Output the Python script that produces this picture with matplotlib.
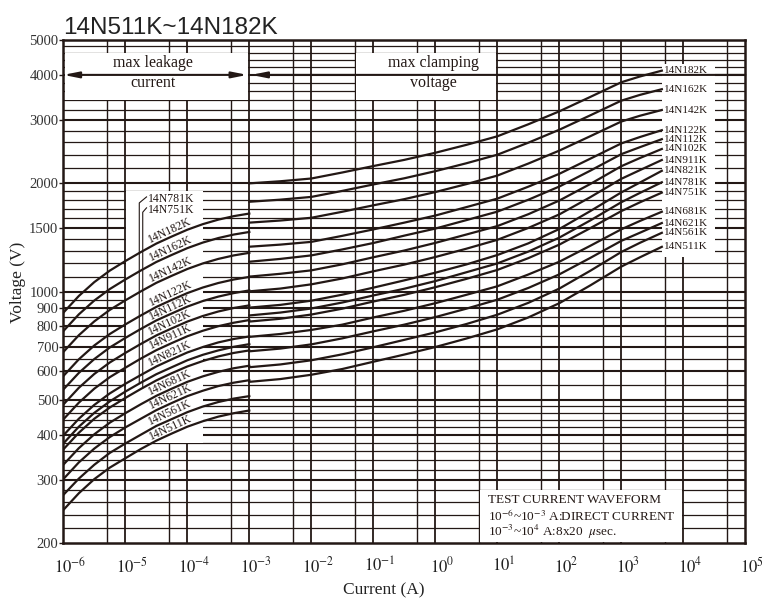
import numpy as np
import matplotlib
matplotlib.use('Agg')
import matplotlib.pyplot as plt
import matplotlib.transforms as mtransforms
from matplotlib.patches import Rectangle

plt.rcParams['font.family'] = ['Liberation Serif', 'DejaVu Serif']
plt.rcParams['mathtext.fontset'] = 'stix'

ink = '#231815'

# varistor types, bottom to top
names = ['14N511K', '14N561K', '14N621K', '14N681K', '14N751K', '14N781K', '14N821K',
         '14N911K', '14N102K', '14N112K', '14N122K', '14N142K', '14N162K', '14N182K']

# max leakage current side (A), quarter decades 1e-6 .. 1e-3
i_leak = [1e-6, 1.78e-6, 3.16e-6, 5.62e-6, 1e-5, 1.78e-5, 3.16e-5, 5.62e-5,
          1e-4, 1.78e-4, 3.16e-4, 5.62e-4, 1e-3]
v_leak = {
    '14N511K': [247, 275, 301, 324, 344, 365, 385, 403, 421, 436, 449, 459, 467],
    '14N561K': [272, 302, 330, 356, 378, 400, 423, 442, 462, 479, 493, 504, 512],
    '14N621K': [301, 335, 366, 394, 419, 443, 468, 490, 512, 530, 546, 558, 567],
    '14N681K': [330, 367, 401, 432, 459, 486, 513, 537, 561, 581, 598, 612, 622],
    '14N751K': [364, 405, 443, 476, 506, 536, 566, 593, 619, 641, 660, 675, 686],
    '14N781K': [378, 421, 460, 495, 527, 558, 589, 616, 644, 667, 686, 702, 714],
    '14N821K': [398, 443, 484, 521, 554, 586, 619, 648, 677, 701, 722, 738, 750],
    '14N911K': [441, 491, 537, 578, 614, 651, 687, 719, 751, 778, 801, 819, 833],
    '14N102K': [485, 540, 590, 635, 675, 715, 755, 790, 825, 855, 880, 900, 915],
    '14N112K': [534, 594, 649, 699, 743, 787, 831, 869, 908, 941, 968, 990, 1007],
    '14N122K': [582, 648, 708, 762, 810, 858, 906, 948, 990, 1026, 1056, 1080, 1098],
    '14N142K': [679, 756, 826, 889, 945, 1001, 1057, 1106, 1155, 1197, 1232, 1260, 1281],
    '14N162K': [776, 864, 944, 1016, 1080, 1144, 1208, 1264, 1320, 1368, 1408, 1440, 1464],
    '14N182K': [873, 972, 1062, 1143, 1215, 1287, 1359, 1422, 1485, 1539, 1584, 1620, 1647],
}

# max clamping voltage side (A), half decades 1e-3 .. 4500
i_clamp = [1e-3, 3.16e-3, 1e-2, 3.16e-2, 1e-1, 0.316, 1, 3.16, 10, 31.6,
           100, 316, 1000, 2000, 4500]
v_clamp = {
    '14N511K': [561, 571, 587, 609, 638, 668, 701, 740, 785, 847, 928, 1040, 1173, 1245, 1331],
    '14N561K': [616, 627, 644, 669, 700, 734, 770, 812, 862, 930, 1019, 1142, 1288, 1366, 1456],
    '14N621K': [682, 694, 713, 741, 775, 809, 849, 896, 949, 1023, 1116, 1240, 1383, 1457, 1550],
    '14N681K': [748, 762, 782, 809, 847, 884, 928, 979, 1034, 1115, 1210, 1340, 1489, 1571, 1666],
    '14N751K': [825, 840, 863, 896, 938, 979, 1028, 1084, 1148, 1238, 1350, 1500, 1673, 1770, 1883],
    '14N781K': [858, 874, 897, 932, 975, 1018, 1069, 1131, 1197, 1291, 1412, 1576, 1771, 1880, 2012],
    '14N821K': [902, 918, 943, 980, 1025, 1074, 1128, 1189, 1263, 1361, 1492, 1673, 1886, 2009, 2165],
    '14N911K': [1001, 1019, 1047, 1087, 1138, 1188, 1247, 1315, 1392, 1502, 1638, 1829, 2057, 2175, 2320],
    '14N102K': [1100, 1120, 1145, 1190, 1245, 1300, 1365, 1440, 1520, 1640, 1790, 1990, 2230, 2350, 2490],
    '14N112K': [1210, 1232, 1260, 1309, 1364, 1430, 1496, 1579, 1667, 1799, 1958, 2167, 2409, 2519, 2651],
    '14N122K': [1332, 1350, 1374, 1428, 1488, 1554, 1626, 1716, 1812, 1956, 2124, 2340, 2580, 2688, 2808],
    '14N142K': [1554, 1575, 1603, 1666, 1736, 1806, 1890, 1988, 2100, 2268, 2464, 2702, 2968, 3080, 3195],
    '14N162K': [1776, 1800, 1832, 1904, 1984, 2064, 2160, 2272, 2400, 2592, 2816, 3088, 3392, 3520, 3650],
    '14N182K': [1998, 2025, 2061, 2142, 2232, 2322, 2430, 2556, 2700, 2916, 3168, 3474, 3816, 3960, 4110],
}

ytick_vals = [200, 300, 400, 500, 600, 700, 800, 900, 1000, 1500, 2000, 3000, 4000, 5000]
xdecades = list(range(-6, 6))

fig = plt.figure(figsize=(7.73, 6.01), dpi=100)
ax = fig.add_axes([0.0819, 0.0965, 0.8823, 0.8369])
ax.set_xscale('log')
ax.set_yscale('log')
ax.set_xlim(1e-6, 1e5)
ax.set_ylim(200, 5000)

# grid
ygrid = list(range(220, 500, 20)) + list(range(500, 1000, 50)) + \
    list(range(1000, 2000, 100)) + list(range(2000, 5000, 200))
for v in ygrid:
    lw = 1.5 if v in ytick_vals else 0.9
    ax.axhline(v, color=ink, lw=lw, zorder=1)
for d in xdecades[1:-1]:
    ax.axvline(10.0 ** d, color=ink, lw=1.3, zorder=1)
for d in xdecades[:-1]:
    ax.axvline(5 * 10.0 ** d, color=ink, lw=1.0, zorder=1)

# white panels
def panel(x0, x1, y0, y1):
    ax.add_patch(Rectangle((x0, y0), x1 - x0, y1 - y0, facecolor='white',
                           edgecolor='none', zorder=2))

panel(1.05e-6, 0.95e-3, 3400, 4600)
panel(5.3e-2, 0.95e1, 3400, 4600)
panel(1.03e-5, 1.77e-4, 380, 1900)
panel(4600, 3.2e4, 1250, 4300)
panel(5.3e0, 0.95e4, 201, 280)

# arrows at 4000 V
ax.annotate('', xy=(1.0e-6, 4000), xytext=(0.93e-3, 4000),
            arrowprops=dict(arrowstyle='<|-|>,head_length=0.9,head_width=0.18',
                            color=ink, lw=1.5, shrinkA=0, shrinkB=0), zorder=3)
ax.annotate('', xy=(1.07e-3, 4000), xytext=(1e5, 4000),
            arrowprops=dict(arrowstyle='-|>,head_length=0.9,head_width=0.18',
                            color=ink, lw=1.5, shrinkA=0, shrinkB=0), zorder=3)

ax.text(2.75e-5, 4320, 'max leakage', ha='center', va='center', fontsize=11.5, color=ink, zorder=4)
ax.text(2.75e-5, 3790, 'current', ha='center', va='center', fontsize=11.5, color=ink, zorder=4)
ax.text(0.92, 4320, 'max clamping', ha='center', va='center', fontsize=11.5, color=ink, zorder=4)
ax.text(0.92, 3790, 'voltage', ha='center', va='center', fontsize=11.5, color=ink, zorder=4)

# curves
for n in names:
    ax.plot(i_leak, v_leak[n], color=ink, lw=1.6, zorder=4)
    ax.plot(i_clamp, v_clamp[n], color=ink, lw=1.6, zorder=4)
    ax.text(4900, v_clamp[n][-1], n, ha='left', va='center', fontsize=8, color=ink, zorder=5)

# labels along leakage curves
x_lab = 5.3e-5
for n in names:
    if n in ('14N781K', '14N751K'):
        continue
    y_lab = 10 ** np.interp(np.log10(x_lab), np.log10(i_leak), np.log10(v_leak[n]))
    ax.annotate(n, (x_lab, y_lab), xytext=(0, 5), textcoords='offset points',
                ha='center', va='center', rotation=25, fontsize=8.5, color=ink, zorder=5)

# leader labels for 781K / 751K
for n, ytxt, xl, yk in [('14N781K', 1805, 1.68e-5, 1763), ('14N751K', 1683, 1.91e-5, 1661)]:
    ax.text(2.3e-5, ytxt, n, ha='left', va='center', fontsize=8.5, color=ink, zorder=5)
    y_end = 10 ** np.interp(np.log10(xl), np.log10(i_leak), np.log10(v_leak[n]))
    ax.plot([2.2e-5, xl, xl], [ytxt * 1.015, yk, y_end], color=ink, lw=0.8, zorder=5)

# test waveform note
ax.text(7.0, 264, 'TEST CURRENT WAVEFORM', fontsize=9.5, color=ink, va='center', zorder=5)
ax.text(7.0, 237, r'10$^{-6}$~10$^{-3}$ A:DIRECT CURRENT', fontsize=9.5, color=ink, va='center', zorder=5)
ax.text(7.0, 215, r'10$^{-3}$~10$^{4}$ A:8x20  $\mu$sec.', fontsize=9.5, color=ink, va='center', zorder=5)

# axes styling
for s in ax.spines.values():
    s.set_linewidth(1.8)
    s.set_color(ink)
    s.set_zorder(6)
ax.minorticks_off()
ax.set_yticks(ytick_vals)
ax.set_yticklabels([str(v) for v in ytick_vals], fontsize=10.5, color='#333333')
ax.tick_params(axis='y', length=3, width=1, pad=0.5, color=ink)
ax.set_xticks([10.0 ** d for d in xdecades])
ax.set_xticklabels([r'$10^{%d}$' % d for d in xdecades], fontsize=12, color='#222222')
ax.tick_params(axis='x', length=0, pad=10)
for lab in ax.get_xticklabels():
    lab.set_transform(lab.get_transform() + mtransforms.ScaledTranslation(5 / 72, 0, fig.dpi_scale_trans))

fig.text(18 / 773, 1 - 282 / 601, 'Voltage (V)', rotation=90, ha='center', va='center',
         fontsize=12.5, color='#222222')
fig.text(384 / 773, 1 - 590 / 601, 'Current (A)', ha='center', va='center',
         fontsize=12.5, color='#222222')
fig.text(63 / 773, 1 - 34 / 601, '14N511K~14N182K', ha='left', va='baseline',
         fontsize=17.5, color='#222222', family='Liberation Sans')

fig.savefig('out.png', dpi=100)
